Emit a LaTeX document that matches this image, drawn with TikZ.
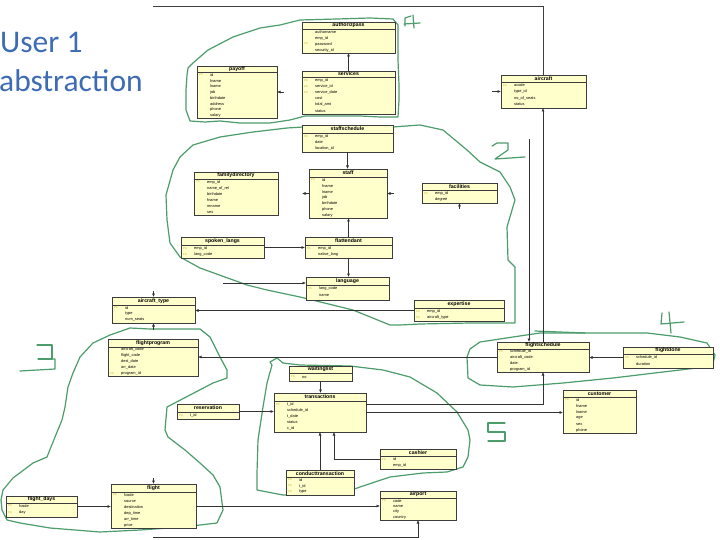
\documentclass[tikz,border=0pt]{standalone}
\usepackage{fontspec}
\setmainfont{Liberation Sans}
\newfontfamily\titlefont{Carlito}
\usetikzlibrary{arrows.meta,calc}
\definecolor{tblfill}{RGB}{255,255,204}
\definecolor{tbledge}{RGB}{60,60,60}
\definecolor{pkcol}{RGB}{200,175,40}
\definecolor{regcol}{RGB}{76,156,108}
\definecolor{titlecol}{RGB}{62,108,180}
\tikzset{
 tbl/.style={draw=tbledge, fill=tblfill, line width=0.5pt, inner sep=0pt, outer sep=0pt, rectangle},
 tblline/.style={draw=tbledge, line width=0.5pt},
 tbltitle/.style={font=\fontsize{5.2}{6}\selectfont\bfseries, inner sep=0pt},
 rowtxt/.style={font=\fontsize{3.9}{4.4}\selectfont, anchor=west, inner sep=0pt},
 pkmark/.style={font=\fontsize{2.8}{3}\selectfont, text=pkcol, anchor=west, inner sep=0pt},
 arr/.style={draw=black!80, line width=0.6pt, -{Latex[length=3.5pt,width=3pt]}},
 plainln/.style={draw=black!75, line width=0.6pt},
 region/.style={draw=regcol, line width=1.2pt, line join=round, line cap=round},
 titletxt/.style={font=\titlefont\fontsize{31.5}{34}\selectfont, text=titlecol, inner sep=0pt, anchor=base west},
}
% name, x1, y1, x2, y2, header bottom, title
\newcommand\ertable[7]{%
  \node[tbl, minimum width={(#4-#2)*1pt}, minimum height={(#5-#3)*1pt}] (#1) at ({(#2+#4)/2},{(#3+#5)/2}) {};
  \draw[tblline] (#2,#6) -- (#4,#6);
  \node[tbltitle] (#1-title) at ({(#2+#4)/2},{(#3+#6)/2}) {#7};
}
% name, x1, first y, step, list marker/text
\newcommand\errows[5]{%
  \foreach \mk/\tx [count=\i from 0] in {#5} {
    \node[pkmark] (#1-m\i) at ({#2+2},{#3+\i*#4}) {\mk};
    \node[rowtxt] (#1-r\i) at ({#2+13},{#3+\i*#4}) {\tx};
  }
}
\begin{document}
\begin{tikzpicture}[x=1pt,y=-1pt]
\useasboundingbox (0,0) rectangle (720,540);
\fill[white] (0,0) rectangle (720,540);

% title
\node[titletxt] (ttl1) at (0,53) {User 1};
\node[titletxt] (ttl2) at (-1,92) {abstraction};

% green regions
\draw[region] (188,68) -- (193,63) -- (208,50) -- (233,37) -- (260,28) -- (280,25) -- (300,20) -- (337,19) -- (370,18) -- (393,19) -- (398,25) -- (398,60) -- (399,85) -- (399,100) -- (398,117) -- (380,117) -- (360,116) -- (330,116) -- (305,116) -- (290,120) -- (270,123) -- (240,123) -- (220,121) -- (205,122) -- (190,121) -- (186,110) -- (186,90) -- (187,75) -- cycle;
\draw[region] (173,170) -- (180,157) -- (193,145) -- (220,137) -- (253,132) -- (287,128) -- (303,127) -- (393,127) -- (420,125) -- (443,130) -- (467,150) -- (480,162) -- (500,172) -- (510,187) -- (515,200) -- (507,227) -- (508,260) -- (515,267) -- (515,323) -- (470,323) -- (420,324) -- (400,325) -- (390,325) -- (353,310) -- (300,297) -- (267,290) -- (247,285) -- (200,268) -- (180,257) -- (170,243) -- (167,220) -- (166,195) -- cycle;
\draw[region] (130,328) -- (150,329) -- (200,329) -- (210,337) -- (220,357) -- (227,370) -- (227,378) -- (213,383) -- (190,395) -- (167,407) -- (165,430) -- (168,437) -- (185,450) -- (200,463) -- (213,475) -- (220,487) -- (223,510) -- (217,523) -- (183,527) -- (140,530) -- (100,532) -- (50,528) -- (20,523) -- (7,520) -- (2,510) -- (1,500) -- (3,490) -- (13,478) -- (33,463) -- (47,457) -- (55,437) -- (62,420) -- (65,407) -- (68,387) -- (73,373) -- (80,357) -- (93,343) -- (110,335) -- cycle;
\draw[region] (480,342) -- (513,337) -- (540,333) -- (580,333) -- (647,333) -- (680,337) -- (707,343) -- (715,355) -- (712,367) -- (697,368) -- (663,372) -- (613,378) -- (563,383) -- (513,387) -- (480,385) -- (468,378) -- (467,357) -- (470,349) -- cycle;
\draw[region] (535,331) -- (585,333);
\draw[region] (277,358) -- (283,363) -- (300,365) -- (350,366) -- (383,370) -- (410,377) -- (437,393) -- (457,412) -- (468,430) -- (470,440) -- (468,457) -- (463,467) -- (447,472) -- (423,473) -- (390,477) -- (360,487) -- (343,493) -- (283,495) -- (257,490) -- (257,473) -- (258,440) -- (263,407) -- (267,383) -- (272,365) -- (270,362) -- cycle;

% hand-drawn numbers
\draw[region] (405,26) -- (405,18) -- (411,16);
\draw[region] (413,15) -- (414,28);
\draw[region] (404,24) -- (420,23);
\draw[region] (492,146) -- (497,143) -- (508,143) -- (508,150) -- (495,159) -- (525,157);
\draw[region] (37,345) -- (52,345) -- (52,359) -- (38,359);
\draw[region] (52,359) -- (55,359) -- (55,369) -- (20,371);
\draw[region] (662,313) -- (661,324) -- (684,322);
\draw[region] (669,312) -- (671,333);
\draw[region] (505,423) -- (488,423) -- (488,432) -- (505,432) -- (505,441) -- (488,441);

% tables
\ertable{authorizpass}{302}{22}{395}{53}{29}{authorizpass}
\errows{authorizpass}{302}{32}{6}{/authorname, /emp\_id, PK/password, /security\_id}
\ertable{services}{302}{71}{395}{114}{77}{services}
\errows{services}{302}{80.1}{6.17}{PK/emp\_id, PK/service\_id, PK/service\_date, /cost, /total\_amt, /status}
\ertable{payoff}{197}{66}{277}{118}{72}{payoff}
\errows{payoff}{197}{74.9}{5.75}{PK/id, /fname, /lname, /job, /birthdate, /address, /phone, /salary}
\ertable{aircraft}{501}{75}{586}{108}{82}{aircraft}
\errows{aircraft}{501}{85.25}{6.5}{PK/acode, /type\_id, /no\_of\_seats, /status}
\ertable{staffschedule}{302}{125}{393}{152}{133}{staffschedule}
\errows{staffschedule}{302}{136.2}{6.33}{PK/emp\_id, /date, /location\_id}
\ertable{staff}{309}{169}{387}{218}{177}{staff}
\errows{staff}{309}{179.9}{5.86}{PK/id, /fname, /lname, /job, /birthdate, /phone, /salary}
\ertable{familydirectory}{194}{172}{278}{215}{179}{familydirectory}
\errows{familydirectory}{194}{182}{6}{PK/emp\_id, /name\_of\_rel, /birthdate, /fname, /mname, /sex}
\ertable{facilities}{422}{183}{497}{203}{190}{facilities}
\errows{facilities}{422}{193.25}{6.5}{PK/emp\_id, /degree}
\ertable{spokenlangs}{181}{237}{264}{258}{245}{spoken\_langs}
\errows{spokenlangs}{181}{248.25}{6.5}{PK/emp\_id, PK/lang\_code}
\ertable{flattendant}{305}{237}{392}{258}{245}{flattendant}
\errows{flattendant}{305}{248.25}{6.5}{PK/emp\_id, /native\_lang}
\ertable{language}{306}{277}{389}{300}{285}{language}
\errows{language}{306}{288.5}{6.5}{PK/lang\_code, /name}
\ertable{expertise}{414}{300}{504}{321}{308}{expertise}
\errows{expertise}{414}{311.25}{6.5}{PK/emp\_id, PK/aircraft\_type}
\ertable{aircrafttype}{112}{297}{195}{323}{305}{aircraft\_type}
\errows{aircrafttype}{112}{308}{6}{PK/id, /type, /num\_seats}
\ertable{flightprogram}{108}{339}{198}{376}{347}{flightprogram}
\errows{flightprogram}{108}{349.9}{5.8}{/aircraft\_code, /flight\_code, /dest\_date, /arr\_date, PK/program\_id}
\ertable{flightschedule}{497}{342}{589}{372}{349}{flightschedule}
\errows{flightschedule}{497}{351.9}{5.75}{PK/schedule\_id, /aircraft\_code, /date, /program\_id}
\ertable{flightdone}{623}{347}{713}{368}{354}{flightdone}
\errows{flightdone}{623}{357.25}{6.5}{PK/schedule\_id, /duration}
\ertable{customer}{563}{390}{636}{433}{397}{customer}
\errows{customer}{563}{400}{6}{PK/id, /fname, /lname, /age, /sex, /phone}
\ertable{waitinglist}{289}{366}{352}{381}{373}{waitinglist}
\errows{waitinglist}{289}{377}{6}{PK/no}
\ertable{transactions}{274}{393}{366}{432}{401}{transactions}
\errows{transactions}{274}{404.1}{6.2}{PK/t\_id, /schedule\_id, /t\_date, /status, /c\_id}
\ertable{reservation}{177}{404}{239}{419}{412}{reservation}
\errows{reservation}{177}{415.5}{6}{PK/t\_id}
\ertable{cashier}{380}{449}{456}{469}{456}{cashier}
\errows{cashier}{380}{459.25}{6.5}{PK/id, /emp\_id}
\ertable{conduct}{286}{470}{354}{495}{477}{conducttransaction}
\errows{conduct}{286}{480}{6}{PK/id, PK/t\_id, PK/type}
\ertable{flight}{111}{484}{196}{528}{492}{flight}
\errows{flight}{111}{495}{6}{PK/fcode, /source, /destination, /dep\_time, /arr\_time, /price}
\ertable{flightdays}{6}{496}{77}{517}{503}{flight\_days}
\errows{flightdays}{6}{506}{6.5}{PK/fcode, PK/day}
\ertable{airport}{380}{491}{456}{520}{498}{airport}
\errows{airport}{380}{500.75}{5.5}{PK/code, /name, /city, /country}

% connectors
\draw[arr] (services.north) -- (services.north |- authorizpass.south);
\coordinate (payin) at (284,92);
\draw[arr] (payin) -- (payin -| payoff.east);
\coordinate (acin) at (492,91.5);
\draw[arr] (acin) -- (acin -| aircraft.west);
\coordinate (topl) at (153,6);
\draw[plainln] (topl) -| (aircraft.north);
\draw[arr] (flightschedule.north) -- (flightschedule.north |- aircraft.south);
\coordinate (fsin) at (529,139);
\draw[arr] (fsin) -- (fsin |- flightschedule.north);
\draw[arr] (staffschedule.south) -- (staffschedule.south |- staff.north);
\coordinate (stl) at (302,193.5);
\draw[arr] (staff.west) -- (stl);
\coordinate (str) at (394,193.5);
\draw[arr] (str) -- (staff.east);
\coordinate (facin) at (459.5,209);
\draw[arr] (facin) -- (facilities.south);
\draw[arr] (spokenlangs.east) -- (spokenlangs.east -| flattendant.west);
\draw[arr] (flattendant.north) -- (flattendant.north |- staff.south);
\draw[arr] (flattendant.south) -- (flattendant.south |- language.north);
\coordinate (lgin) at (223,283);
\draw[arr] (lgin) -- (lgin -| language.west);
\draw[arr] (expertise.west) -- (expertise.west -| aircrafttype.east);
\coordinate (atin) at (153.5,291);
\draw[arr] (atin) -- (aircrafttype.north);
\coordinate (atb) at (153.5,330);
\draw[arr] (atb) -- (aircrafttype.south);
\draw[arr] (flightschedule.west) -- (flightschedule.west -| flightprogram.east);
\draw[arr] (flightdone.west) -- (flightdone.west -| flightschedule.east);
\draw[arr] ([yshift=8.5pt]transactions.east) -| (flightschedule.south);
\draw[arr] (transactions.east) -- (transactions.east -| customer.west);
\draw[arr] (waitinglist.south) -- (waitinglist.south |- transactions.north);
\draw[arr] (reservation.east) -- (reservation.east -| transactions.west);
\draw[arr] (cashier.west) -| ([xshift=14pt]transactions.south);
\draw[arr] (conduct.north) -- (conduct.north |- transactions.south);
\draw[arr] (flightdays.east) -- (flightdays.east -| flight.west);
\draw[arr] (flight.east) -- (flight.east -| airport.west);
\coordinate (fltin) at (153.5,478);
\draw[arr] (fltin) -- (flight.north);
\coordinate (botl) at (153,537);
\draw[arr] (botl) -| (airport.south);
\end{tikzpicture}
\end{document}
